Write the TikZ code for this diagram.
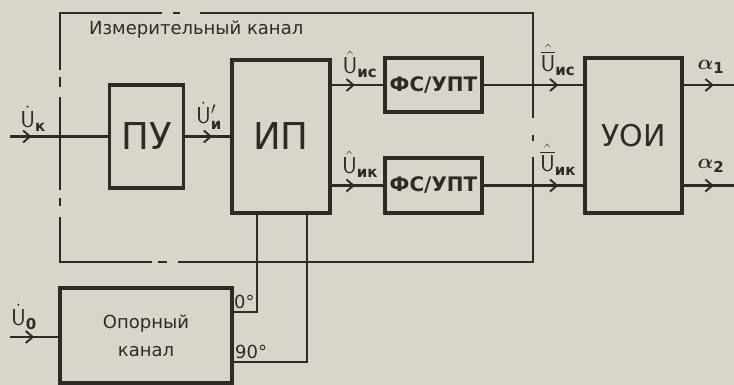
\documentclass[tikz,border=0pt]{standalone}
\usepackage{fontspec}
\setmainfont{DejaVu Sans}
\usepackage{amsmath}
\usetikzlibrary{decorations.markings,arrows.meta}
\definecolor{paper}{RGB}{216,214,203}
\definecolor{ink}{RGB}{48,42,38}
\tikzset{
  blk/.style={draw=ink, line width=3.2pt, fill=none, text=ink, inner sep=0pt},
  wire/.style={draw=ink, line width=2.1pt},
  frame/.style={draw=ink, line width=2.1pt},
  lbl/.style={text=ink, inner sep=0pt},
  midarrow/.style={postaction={decorate}, decoration={markings,
      mark=at position #1 with {\arrow[ink]{Straight Barb[length=7pt,width=12pt,line width=1.9pt]}}}},
}
\newcommand{\Us}{\mathsf{U}}
\newcommand{\sbs}[1]{\text{\fontsize{15}{15}\selectfont\bfseries #1}}
\begin{document}
\begin{tikzpicture}[x=1pt,y=-1pt]
\fill[paper] (0,0) rectangle (734,385);
\useasboundingbox (0,0) rectangle (734,385);

% dashed frame of the measuring channel
\draw[frame] (162,13) -- (60,13) -- (60,70);
\draw[frame] (60,77) -- (60,87);
\draw[frame] (60,97) -- (60,190);
\draw[frame] (60,198) -- (60,206);
\draw[frame] (60,217) -- (60,262) -- (152,262);
\draw[frame] (158,262) -- (167,262);
\draw[frame] (178,262) -- (533,262) -- (533,157);
\draw[frame] (533,135) -- (533,141);
\draw[frame] (533,118) -- (533,13) -- (200,13);
\draw[frame] (173,13) -- (180,13);
\node[lbl, anchor=west, font=\fontsize{18}{18}\selectfont] (title) at (89,30) {Измерительный канал};

% blocks
\node[blk, minimum width=74pt, minimum height=103pt, font=\fontsize{37}{37}\selectfont] (pu) at (146.5,136.5) {ПУ};
\node[blk, minimum width=98pt, minimum height=153pt, font=\fontsize{37}{37}\selectfont] (ip) at (281,136.5) {ИП};
\node[blk, minimum width=97pt, minimum height=54pt, font=\fontsize{20}{20}\selectfont\bfseries] (fs1) at (433.5,85) {ФС/УПТ};
\node[blk, minimum width=97pt, minimum height=55pt, font=\fontsize{20}{20}\selectfont\bfseries] (fs2) at (433.5,185.5) {ФС/УПТ};
\node[blk, minimum width=97pt, minimum height=155pt, font=\fontsize{30}{30}\selectfont] (uoi) at (633.5,135.5) {УОИ};
\node[blk, minimum width=172pt, minimum height=95pt, align=center, font=\fontsize{18}{28}\selectfont] (ref) at (146,335.5) {Опорный\\канал};

% endpoints
\coordinate (inK) at (10,136.5);
\coordinate (in0) at (10,337);
\coordinate (a1) at (734,85);
\coordinate (a2) at (734,185.5);

% connectors
\draw[wire, midarrow=0.22] (inK) -- (pu.west);
\draw[wire, midarrow=0.6] (pu.east) -- (ip.west);
\draw[wire, midarrow=0.45] (ip.east |- fs1) -- (fs1.west);
\draw[wire, midarrow=0.45] (ip.east |- fs2) -- (fs2.west);
\draw[wire, midarrow=0.75] (fs1.east) -- (uoi.west |- fs1);
\draw[wire, midarrow=0.75] (fs2.east) -- (uoi.west |- fs2);
\draw[wire, midarrow=0.6] (uoi.east |- a1) -- (a1);
\draw[wire, midarrow=0.6] (uoi.east |- a2) -- (a2);
\draw[wire, midarrow=0.5] (in0) -- (ref.west |- in0);
\draw[wire] (ref.east |- 0,312) -| (257,0 |- ip.south);
\draw[wire] (ref.east |- 0,362) -| (307,0 |- ip.south);

% labels
\node[lbl, font=\fontsize{23}{23}\selectfont] (lk) at (33,119) {$\dot{\Us}_{\sbs{к}}$};
\node[lbl, font=\fontsize{23}{23}\selectfont] (li) at (209,116) {$\dot{\Us}'_{\sbs{и}}$};
\node[lbl, font=\fontsize{23}{23}\selectfont] (lic) at (360,64) {$\hat{\Us}_{\sbs{ис}}$};
\node[lbl, font=\fontsize{23}{23}\selectfont] (lik) at (360,164) {$\hat{\Us}_{\sbs{ик}}$};
\node[lbl, font=\fontsize{23}{23}\selectfont] (llic) at (558,60) {$\hat{\overline{\Us}}_{\sbs{ис}}$};
\node[lbl, font=\fontsize{23}{23}\selectfont] (llik) at (558,160) {$\hat{\overline{\Us}}_{\sbs{ик}}$};
\node[lbl, font=\fontsize{22}{22}\selectfont] (la1) at (711,67) {$\boldsymbol{\alpha}_{\sbs{1}}$};
\node[lbl, font=\fontsize{22}{22}\selectfont] (la2) at (711,166) {$\boldsymbol{\alpha}_{\sbs{2}}$};
\node[lbl, font=\fontsize{23}{23}\selectfont] (l0) at (24,317) {$\dot{\Us}_{\sbs{0}}$};
\node[lbl, anchor=south west, font=\fontsize{18}{18}\selectfont] (deg0) at (234,309) {0°};
\node[lbl, anchor=south west, font=\fontsize{18}{18}\selectfont] (deg90) at (235,359) {90°};
\end{tikzpicture}
\end{document}
